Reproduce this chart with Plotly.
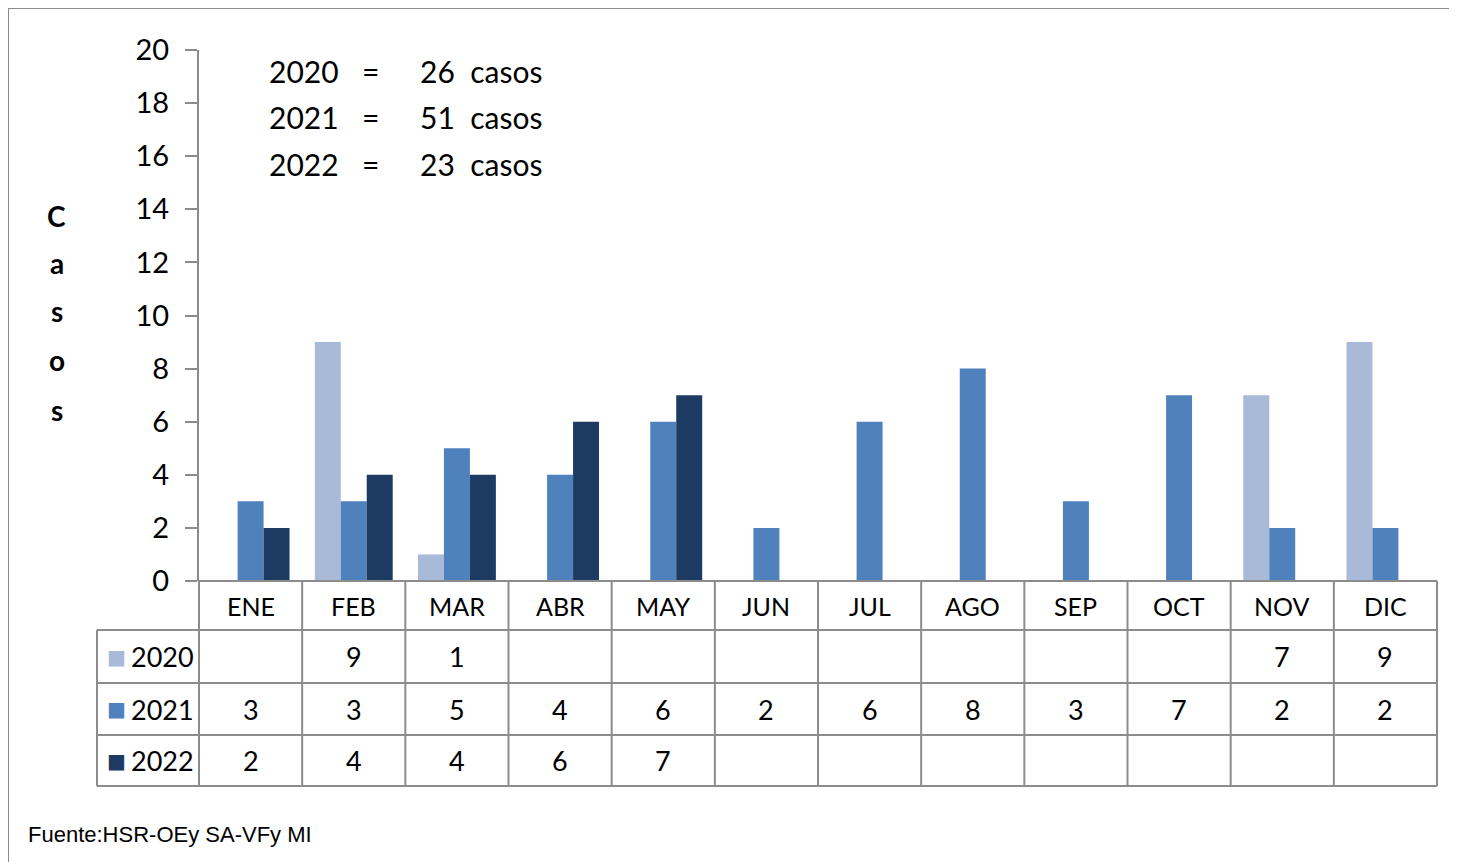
import plotly.graph_objects as go

W, H = 1457, 862
OFF = 8  # browser body margin
FW, FH = W - OFF, H - OFF

months = ["ENE", "FEB", "MAR", "ABR", "MAY", "JUN", "JUL", "AGO", "SEP", "OCT", "NOV", "DIC"]
years = ["2020", "2021", "2022"]
v2020 = [None, 9, 1, None, None, None, None, None, None, None, 7, 9]
v2021 = [3, 3, 5, 4, 6, 2, 6, 8, 3, 7, 2, 2]
v2022 = [2, 4, 4, 6, 7, None, None, None, None, None, None, None]
series = [v2020, v2021, v2022]
colors = ["#A9B9D8", "#4F81BD", "#1C3A62"]
y_ticks = list(range(0, 21, 2))
source = "Fuente:HSR-OEy SA-VFy MI"

FONT = "Lato"
GRID = "#8c8c8c"

# pixel geometry (screenshot pixels)
PX_L, PX_R = 199, 1437
PY_TOP, PY_BOT = 50, 581
TBL_L = 97
ROWS = [581, 630, 683, 735, 786]


def px(x):
    return (x - OFF) / FW


def py(y):
    return 1 - (y - OFF) / FH


fig = go.Figure()
for name, vals, col in zip(years, series, colors):
    fig.add_trace(go.Bar(x=months, y=vals, name=name, marker=dict(color=col, line=dict(width=0)),
                         showlegend=False))

fig.update_layout(
    width=FW, height=FH,
    margin=dict(l=0, r=0, t=0, b=0, autoexpand=False),
    paper_bgcolor="white", plot_bgcolor="white",
    barmode="group", bargap=0.245, bargroupgap=0,
    font=dict(family=FONT, color="black"),
    xaxis=dict(domain=[px(PX_L), px(PX_R)], range=[-0.5, 11.5], showticklabels=False,
               showgrid=False, zeroline=False, showline=False, ticks=""),
    yaxis=dict(domain=[py(PY_BOT), py(PY_TOP)], range=[0, 20], tickvals=y_ticks,
               showgrid=False, zeroline=False, showline=True, linecolor=GRID, linewidth=2,
               ticks="outside", ticklen=12, tickcolor=GRID, tickwidth=2,
               tickfont=dict(size=29, family=FONT, color="black"), ticklabelstandoff=10),
)

shapes = []
line = dict(color=GRID, width=2)
# outer border
shapes.append(dict(type="line", xref="paper", yref="paper", x0=px(8), x1=1.01, y0=py(8), y1=py(8), line=line))
shapes.append(dict(type="line", xref="paper", yref="paper", x0=px(8), x1=px(8), y0=py(8), y1=-0.01, line=line))
# horizontal table lines
for i, r in enumerate(ROWS):
    x0 = PX_L if i == 0 else TBL_L
    shapes.append(dict(type="line", xref="paper", yref="paper", x0=px(x0), x1=px(PX_R),
                       y0=py(r), y1=py(r), line=line))
# vertical lines
cw = (PX_R - PX_L) / len(months)
for k in range(len(months) + 1):
    xx = PX_L + k * cw
    shapes.append(dict(type="line", xref="paper", yref="paper", x0=px(xx), x1=px(xx),
                       y0=py(ROWS[0]), y1=py(ROWS[-1]), line=line))
shapes.append(dict(type="line", xref="paper", yref="paper", x0=px(TBL_L), x1=px(TBL_L),
                   y0=py(ROWS[1]), y1=py(ROWS[-1]), line=line))
fig.update_layout(shapes=shapes)


def A(x, y, text, size, xref="paper", xanchor="center", family=FONT, color="black"):
    return dict(x=x, xref=xref, y=y, yref="paper", text=text, xanchor=xanchor, yanchor="middle",
                showarrow=False, font=dict(size=size, family=family, color=color))


ann = []
# month header
for m in months:
    ann.append(A(m, py((ROWS[0] + ROWS[1]) / 2), m, 25, xref="x"))
# table rows
for i, (name, vals, col) in enumerate(zip(years, series, colors)):
    yc = py((ROWS[i + 1] + ROWS[i + 2]) / 2)
    ann.append(A(px(105), yc, "■", 20, xanchor="left", family="DejaVu Sans", color=col))
    ann.append(A(px(129), yc, name, 27, xanchor="left"))
    for m, v in zip(months, vals):
        if v is not None:
            ann.append(A(m, yc, str(v), 27, xref="x"))
# totals text
row_y = [71, 117, 164]
for name, vals, ry in zip(years, series, row_y):
    total = sum(v for v in vals if v is not None)
    ann.append(A(px(267), py(ry), name, 30, xanchor="left"))
    ann.append(A(px(370), py(ry), "=", 30))
    ann.append(A(px(418), py(ry), f"{total}  casos", 30, xanchor="left"))
# y title stacked
for ch, yy in zip("Casos", [216, 263, 311, 360, 410]):
    ann.append(A(px(57), py(yy), f"<b>{ch}</b>", 28))
# source
ann.append(A(px(26), py(834), source, 22, xanchor="left", family="Liberation Sans"))
fig.update_layout(annotations=ann)

fig.write_html("out.html")
